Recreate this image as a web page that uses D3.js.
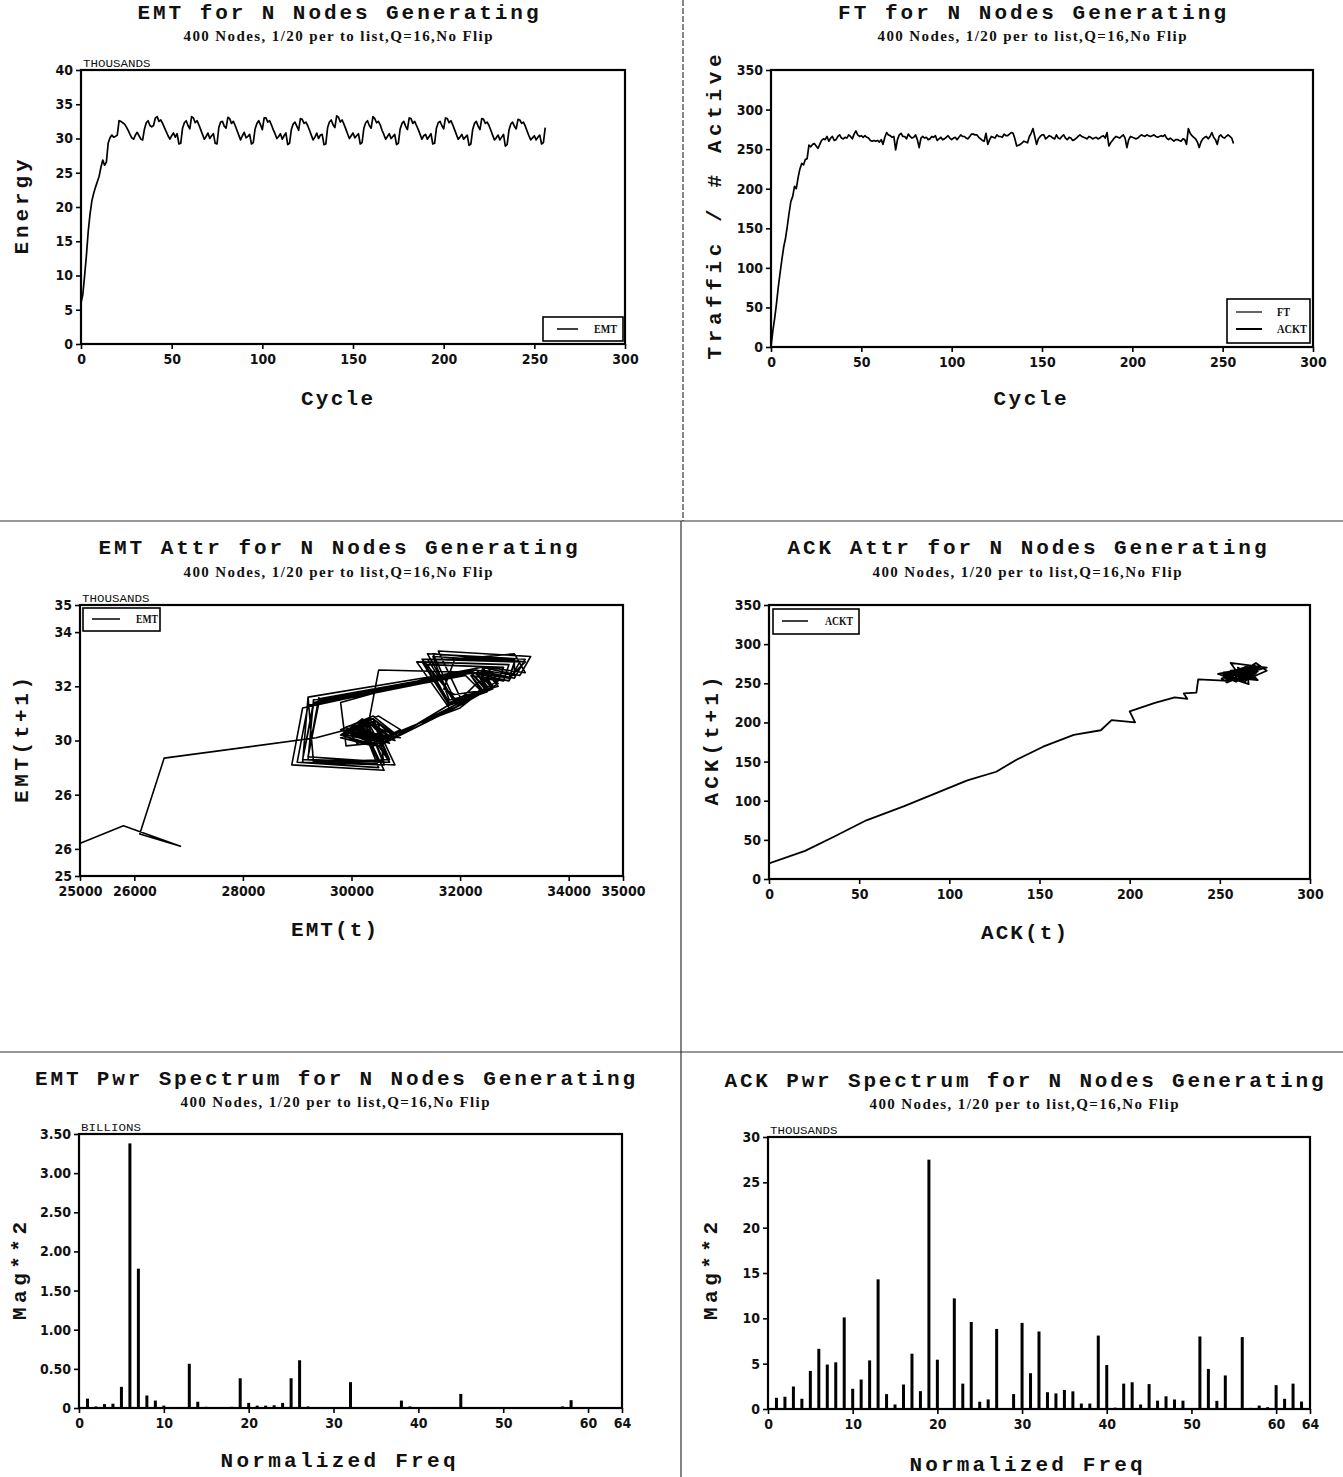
<!DOCTYPE html>
<html><head><meta charset="utf-8">
<script src="https://cdn.jsdelivr.net/npm/d3@7"></script>
<style>
body{margin:0;background:#fff;}
svg{display:block;background:#fff;}
.title{font-family:"Liberation Mono","DejaVu Sans Mono",monospace;font-weight:bold;font-size:21px;fill:#111;}
.sub{font-family:"Liberation Serif","DejaVu Serif",serif;font-weight:bold;font-size:15px;fill:#111;}
.axt{font-family:"Liberation Mono","DejaVu Sans Mono",monospace;font-weight:bold;font-size:21px;fill:#111;}
.tk{font-family:"Liberation Sans Narrow","DejaVu Sans Condensed","Arial Narrow",sans-serif;font-stretch:condensed;font-weight:bold;font-size:14px;fill:#111;}
.unit{font-family:"Liberation Mono","DejaVu Sans Mono",monospace;font-size:11px;fill:#111;}
.leg{font-family:"Liberation Serif","DejaVu Serif",serif;font-weight:bold;font-size:12px;fill:#111;}
</style></head><body>
<svg id="chart" width="1343" height="1477"></svg>
<script>
// ---------------- DATA ----------------
const subtitleText = "400 Nodes, 1/20 per to list,Q=16,No Flip";
// EMT energy per cycle (thousands), cycles 0..256
const emtEnergy = [
6.0, 7.2, 10.0, 13.0, 16.5, 19.0, 20.9, 22.0, 22.9, 23.7,
24.5, 25.8, 26.85, 26.1, 26.55, 29.35, 30.1, 30.5, 30.2, 30.3,
30.5, 32.6, 32.5, 32.3, 32.1, 31.7, 31.2, 30.6, 30.1, 29.9,
30.5, 30.9, 30.4, 29.9, 29.8, 31.4, 32.3, 32.6, 31.9, 31.7,
31.9, 33.0, 33.2, 32.5, 32.7, 32.2, 31.6, 31.0, 30.4, 29.9,
30.4, 30.8, 30.2, 30.7,
29.2, 29.3, 31.5, 32.3, 32.6, 31.9, 31.4, 33.2, 33.0, 32.3, 32.6, 32.0, 31.3, 30.6, 29.9, 30.3, 30.8, 30.0, 30.4, 30.7,
29.3, 29.2, 31.6, 32.4, 32.5, 31.8, 31.5, 33.1, 32.9, 32.2, 32.5, 31.9, 31.2, 30.5, 29.8, 30.4, 30.9, 30.1, 30.3, 30.6,
29.2, 29.4, 31.4, 32.2, 32.6, 32.0, 31.3, 33.0, 33.0, 32.4, 32.6, 32.0, 31.3, 30.7, 30.0, 30.3, 30.7, 29.9, 30.4, 30.8,
29.1, 29.3, 31.3, 32.1, 32.4, 31.8, 31.2, 32.9, 32.8, 32.2, 32.4, 31.9, 31.2, 30.5, 29.8, 30.2, 30.8, 30.0, 30.5, 30.6,
29.1, 29.2, 31.6, 32.4, 32.7, 32.0, 31.6, 33.3, 33.1, 32.4, 32.7, 32.1, 31.4, 30.7, 30.0, 30.4, 30.8, 30.1, 30.4, 30.7,
29.2, 29.4, 31.5, 32.3, 32.6, 31.9, 31.5, 33.2, 32.9, 32.3, 32.5, 32.0, 31.2, 30.6, 29.9, 30.3, 30.7, 30.0, 30.3, 30.6,
29.1, 29.3, 31.4, 32.2, 32.5, 31.8, 31.3, 33.0, 32.9, 32.2, 32.5, 31.9, 31.3, 30.6, 29.9, 30.4, 30.6, 29.9, 30.3, 30.7,
29.2, 29.3, 31.5, 32.3, 32.5, 31.9, 31.4, 33.0, 32.9, 32.3, 32.6, 32.0, 31.3, 30.6, 29.9, 30.2, 30.6, 29.9, 30.2, 30.5,
29.0, 29.2, 31.3, 32.2, 32.5, 31.8, 31.3, 32.9, 32.8, 32.2, 32.4, 31.9, 31.2, 30.5, 29.8, 30.1, 30.5, 29.8, 30.2, 30.6,
28.9, 29.1, 31.2, 32.1, 32.4, 31.8, 31.4, 32.8, 32.7, 32.2, 32.4, 31.8, 31.1, 30.4, 29.8, 30.1, 30.4, 29.8, 30.2, 30.5,
29.2, 29.4, 31.6
];
// ACK traffic / # active per cycle, cycles 0..256
const ackTraffic = [
0, 20, 36, 54, 75, 93, 110, 126, 137, 152,
169, 184, 190, 203, 200, 214, 225, 232, 230, 237,
238, 255, 253, 256, 257, 254, 251, 256, 261, 263,
262, 266, 260, 264, 266, 261, 262, 266, 268, 264,
263, 265, 264, 268, 266, 263, 269, 273, 268, 266,
267, 265, 267, 265, 264, 261, 260, 261, 260, 261,
259, 262, 256, 265, 271, 268, 267, 265, 266, 249,
262, 268, 270, 266, 266, 263, 269, 266, 264, 265,
268, 262, 252, 264, 266, 264, 265, 262, 263, 266,
265, 267, 261, 263, 265, 262, 263, 265, 267, 264,
262, 264, 265, 262, 265, 268, 266, 266, 264, 263,
266, 269, 269, 268, 268, 265, 263, 261, 260, 270,
256, 262, 266, 265, 264, 268, 266, 266, 265, 269,
267, 267, 269, 271, 270, 263, 254, 255, 256, 258,
260, 259, 258, 266, 270, 276, 266, 256, 263, 266,
268, 268, 263, 265, 267, 266, 264, 263, 268, 264,
263, 266, 268, 264, 262, 265, 264, 261, 262, 264,
266, 268, 266, 265, 264, 263, 266, 265, 263, 264,
265, 263, 264, 266, 267, 264, 271, 254, 258, 261,
264, 266, 265, 264, 266, 268, 264, 252, 262, 266,
265, 264, 263, 264, 266, 268, 267, 266, 268, 267,
266, 267, 268, 266, 265, 266, 267, 266, 268, 264,
262, 264, 262, 260, 262, 262, 261, 260, 263, 262,
256, 276, 270, 267, 265, 263, 259, 252, 259, 263,
265, 266, 263, 266, 271, 265, 262, 256, 266, 268,
265, 264, 266, 268, 266, 264, 257
];
// Power spectra, normalized freq 1..63
const emtSpectrum = [ // billions
0.12, 0.02, 0.05, 0.055, 0.27, 3.38, 1.78, 0.16, 0.095, 0.03,
0.005, 0.005, 0.565, 0.08, 0.015, 0.01, 0.01, 0.015, 0.38, 0.065,
0.03, 0.03, 0.035, 0.065, 0.38, 0.61, 0.02, 0.005, 0.005, 0.005,
0.005, 0.33, 0.005, 0.005, 0.005, 0.005, 0.01, 0.095, 0.02, 0.005,
0.005, 0.005, 0.005, 0.01, 0.18, 0.005, 0.005, 0.005, 0.005, 0.005,
0.005, 0.005, 0.005, 0.005, 0.005, 0.005, 0.02, 0.1, 0.005, 0.005,
0.005, 0.005, 0.005
];
const ackSpectrum = [ // thousands
1.24, 1.35, 2.48, 1.13, 4.2, 6.64, 4.9, 5.15, 10.1, 2.23,
3.25, 5.36, 14.3, 1.64, 0.5, 2.7, 6.1, 1.97, 27.5, 5.44,
0.0, 12.2, 2.8, 9.6, 0.8, 1.06, 8.83, 0.05, 1.64, 9.5,
3.95, 8.55, 1.85, 1.72, 2.1, 1.95, 0.6, 0.6, 8.1, 4.85,
0.15, 2.8, 2.95, 0.5, 2.75, 0.92, 1.4, 1.05, 0.92, 0.08,
8.0, 4.42, 0.9, 3.7, 0.0, 7.93, 0.12, 0.38, 0.2, 2.63,
1.12, 2.8, 0.82
];
// Ticks
const cycleTicks = [0, 50, 100, 150, 200, 250, 300];
const energyTicks = [0, 5, 10, 15, 20, 25, 30, 35, 40];
const trafficTicks = [0, 50, 100, 150, 200, 250, 300, 350];
const emtAttrXTicks = [25000, 26000, 28000, 30000, 32000, 34000, 35000];
const emtAttrYTicks = [25, 26, 28, 30, 32, 34, 35];
const emtAttrYLabels = ["25", "26", "26", "30", "32", "34", "35"];
const freqTicks = [0, 10, 20, 30, 40, 50, 60, 64];
const emtPwrTicks = [0, 0.5, 1.0, 1.5, 2.0, 2.5, 3.0, 3.5];
const emtPwrLabels = ["0", "0.50", "1.00", "1.50", "2.00", "2.50", "3.00", "3.50"];
const ackPwrTicks = [0, 5, 10, 15, 20, 25, 30];

// ---------------- DRAW ----------------
const svg = d3.select('#chart');
svg.append('rect').attr('width',1343).attr('height',1477).attr('fill','#fff');

// dividers
const dv = svg.append('g').attr('stroke','#333').attr('stroke-width',1.2);
dv.append('line').attr('x1',0).attr('x2',1343).attr('y1',521).attr('y2',521);
dv.append('line').attr('x1',0).attr('x2',1343).attr('y1',1052).attr('y2',1052);
dv.append('line').attr('x1',683).attr('x2',683).attr('y1',0).attr('y2',521).attr('stroke-dasharray','6,2');
dv.append('line').attr('x1',681).attr('x2',681).attr('y1',521).attr('y2',1477);

function addText(cls, txt, x, y, len, rotate){
  const t = svg.append('text').attr('class',cls).attr('text-anchor','middle').text(txt);
  if(rotate){ t.attr('transform',`translate(${x},${y}) rotate(-90)`); }
  else { t.attr('x',x).attr('y',y); }
  if(len) t.attr('textLength',len).attr('lengthAdjust','spacing');
  return t;
}

function panel(p){
  const x = d3.scaleLinear().domain(p.xDomain).range([p.left, p.right]);
  const y = d3.scaleLinear().domain(p.yDomain).range([p.bottom, p.top]);
  const id = 'clip' + p.id;
  svg.append('clipPath').attr('id',id).append('rect')
    .attr('x',p.left).attr('y',p.top).attr('width',p.right-p.left).attr('height',p.bottom-p.top);
  const g = svg.append('g');
  const xa = g.append('g').attr('transform',`translate(0,${p.bottom})`)
    .call(d3.axisBottom(x).tickValues(p.xTicks).tickFormat((d,i)=>p.xLabels ? p.xLabels[i] : d)
      .tickSizeInner(5).tickSizeOuter(0).tickPadding(5));
  const ya = g.append('g').attr('transform',`translate(${p.left},0)`)
    .call(d3.axisLeft(y).tickValues(p.yTicks).tickFormat((d,i)=>p.yLabels ? p.yLabels[i] : d)
      .tickSizeInner(5).tickSizeOuter(0).tickPadding(3));
  [xa,ya].forEach(a=>{
    a.attr('font-family',null).attr('font-size',null);
    a.select('.domain').remove();
    a.selectAll('.tick line').attr('stroke','#000').attr('stroke-width',1.6);
    a.selectAll('.tick text').attr('class','tk').attr('fill',null);
  });
  g.append('rect').attr('x',p.left).attr('y',p.top).attr('width',p.right-p.left).attr('height',p.bottom-p.top)
    .attr('fill','none').attr('stroke','#000').attr('stroke-width',2.2);
  addText('title', p.title, p.tx, p.ty, p.tlen);
  addText('sub', subtitleText, p.tx, p.sy, 309);
  addText('axt', p.ylab, p.ylx, p.yly, p.ylen, true);
  addText('axt', p.xlab, p.xlx, p.xly, p.xlen);
  if(p.unit){
    svg.append('text').attr('class','unit').attr('x',p.left+2).attr('y',p.top-3)
      .attr('textLength',p.unit.length*7.5).attr('lengthAdjust','spacingAndGlyphs').text(p.unit);
  }
  return {x, y, g, clip:`url(#${id})`};
}

function legend(box, items){
  const g = svg.append('g');
  g.append('rect').attr('x',box[0]).attr('y',box[1]).attr('width',box[2]).attr('height',box[3])
    .attr('fill','#fff').attr('stroke','#000').attr('stroke-width',1.6);
  items.forEach(it=>{
    g.append('line').attr('x1',it.lx1).attr('x2',it.lx2).attr('y1',it.ly).attr('y2',it.ly)
      .attr('stroke','#000').attr('stroke-width',it.w||1.5);
    g.append('text').attr('class','leg').attr('x',it.tx).attr('y',it.ly+4)
      .attr('textLength',it.tlen).attr('lengthAdjust','spacingAndGlyphs').text(it.label);
  });
}

const idx = (arr)=>arr.map((v,i)=>[i,v]);

// ---- Panel 1: EMT vs Cycle
const p1 = panel({id:1, left:81, right:625, top:70, bottom:344, xDomain:[0,300], yDomain:[0,40],
  xTicks:cycleTicks, yTicks:energyTicks, title:"EMT for N Nodes Generating", tx:338, ty:19, tlen:401, sy:41,
  ylab:"Energy", ylx:28, yly:207, ylen:95, xlab:"Cycle", xlx:337, xly:405, xlen:72, unit:"THOUSANDS"});
p1.g.append('path').datum(idx(emtEnergy)).attr('clip-path',p1.clip)
  .attr('d', d3.line().x(d=>p1.x(d[0])).y(d=>p1.y(d[1])))
  .attr('fill','none').attr('stroke','#000').attr('stroke-width',1.7).attr('stroke-linejoin','round');
legend([543,317,80,24],[{lx1:557,lx2:578,ly:329,tx:594,tlen:23,label:"EMT"}]);

// ---- Panel 2: FT vs Cycle
const p2 = panel({id:2, left:771, right:1313, top:70, bottom:347, xDomain:[0,300], yDomain:[0,350],
  xTicks:cycleTicks, yTicks:trafficTicks, title:"FT for N Nodes Generating", tx:1032, ty:19, tlen:388, sy:41,
  ylab:"Traffic / # Active", ylx:721, yly:207, ylen:305, xlab:"Cycle", xlx:1030, xly:405, xlen:73});
p2.g.append('path').datum(idx(ackTraffic)).attr('clip-path',p2.clip)
  .attr('d', d3.line().x(d=>p2.x(d[0])).y(d=>p2.y(d[1])))
  .attr('fill','none').attr('stroke','#000').attr('stroke-width',1.7).attr('stroke-linejoin','round');
legend([1227,299,83,44],[{lx1:1236,lx2:1262,ly:312,tx:1277,tlen:13,label:"FT",w:1.2},
                         {lx1:1236,lx2:1262,ly:329,tx:1277,tlen:30,label:"ACKT",w:2}]);

// ---- Panel 3: EMT attractor
const p3 = panel({id:3, left:80, right:623, top:605, bottom:876, xDomain:[25000,35000], yDomain:[25,35],
  xTicks:emtAttrXTicks, yTicks:emtAttrYTicks, yLabels:emtAttrYLabels,
  title:"EMT Attr for N Nodes Generating", tx:338, ty:554, tlen:479, sy:577,
  ylab:"EMT(t+1)", ylx:28, yly:740, ylen:126, xlab:"EMT(t)", xlx:334, xly:936, xlen:86, unit:"THOUSANDS"});
p3.g.append('path').datum(d3.pairs(emtEnergy)).attr('clip-path',p3.clip)
  .attr('d', d3.line().x(d=>p3.x(d[0]*1000)).y(d=>p3.y(d[1])))
  .attr('fill','none').attr('stroke','#000').attr('stroke-width',1.6).attr('stroke-linejoin','round');
legend([83,608,77,23],[{lx1:92,lx2:120,ly:619,tx:136,tlen:22,label:"EMT"}]);

// ---- Panel 4: ACK attractor
const p4 = panel({id:4, left:769, right:1310, top:605, bottom:879, xDomain:[0,300], yDomain:[0,350],
  xTicks:cycleTicks, yTicks:trafficTicks,
  title:"ACK Attr for N Nodes Generating", tx:1027, ty:554, tlen:479, sy:577,
  ylab:"ACK(t+1)", ylx:718, yly:741, ylen:129, xlab:"ACK(t)", xlx:1024, xly:939, xlen:86});
p4.g.append('path').datum(d3.pairs(ackTraffic)).attr('clip-path',p4.clip)
  .attr('d', d3.line().x(d=>p4.x(d[0])).y(d=>p4.y(d[1])))
  .attr('fill','none').attr('stroke','#000').attr('stroke-width',1.8).attr('stroke-linejoin','round');
legend([773,609,86,25],[{lx1:782,lx2:808,ly:621,tx:825,tlen:28,label:"ACKT"}]);

// ---- Panel 5: EMT power spectrum
const p5 = panel({id:5, left:79, right:622, top:1134, bottom:1408, xDomain:[0,64], yDomain:[0,3.5],
  xTicks:freqTicks, yTicks:emtPwrTicks, yLabels:emtPwrLabels,
  title:"EMT Pwr Spectrum for N Nodes Generating", tx:335, ty:1085, tlen:600, sy:1107,
  ylab:"Mag**2", ylx:26, yly:1271, ylen:98, xlab:"Normalized Freq", xlx:338, xly:1467, xlen:235, unit:"BILLIONS"});
p5.g.append('g').selectAll('rect').data(emtSpectrum).join('rect')
  .attr('x',(d,i)=>p5.x(i+1)-1.5).attr('width',3)
  .attr('y',d=>p5.y(d)).attr('height',d=>p5.y(0)-p5.y(d)).attr('fill','#000');

// ---- Panel 6: ACK power spectrum
const p6 = panel({id:6, left:768, right:1310, top:1137, bottom:1409, xDomain:[0,64], yDomain:[0,30],
  xTicks:freqTicks, yTicks:ackPwrTicks,
  title:"ACK Pwr Spectrum for N Nodes Generating", tx:1024, ty:1087, tlen:599, sy:1109,
  ylab:"Mag**2", ylx:717, yly:1271, ylen:98, xlab:"Normalized Freq", xlx:1026, xly:1471, xlen:233, unit:"THOUSANDS"});
p6.g.append('g').selectAll('rect').data(ackSpectrum).join('rect')
  .attr('x',(d,i)=>p6.x(i+1)-1.5).attr('width',3)
  .attr('y',d=>p6.y(d)).attr('height',d=>p6.y(0)-p6.y(d)).attr('fill','#000');
</script>
</body></html>
